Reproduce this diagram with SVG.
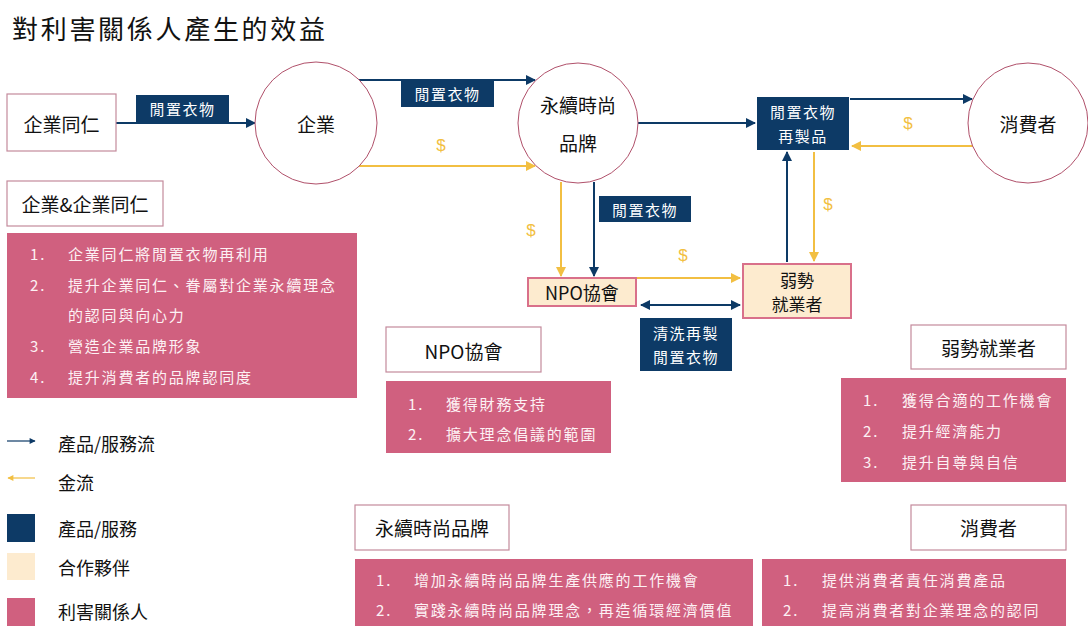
<svg xmlns="http://www.w3.org/2000/svg" width="1088" height="626" viewBox="0 0 1088 626">
<style>
text{font-family:"Noto Sans CJK TC","Noto Sans CJK SC","Noto Sans",sans-serif;}
.t{font-size:19px;fill:#111;text-anchor:middle;dominant-baseline:central;}
.lbl{font-size:15px;fill:#fff;text-anchor:middle;dominant-baseline:central;letter-spacing:1.5px;}
.navy{fill:#0d3a66;}
.circ{fill:#fff;stroke:#b0506a;stroke-width:1;}
.hdr{fill:#fff;stroke:#c48a9c;stroke-width:1.2;}
.list{fill:#d0607f;}
.li{font-size:15px;fill:#fdf1f4;dominant-baseline:central;letter-spacing:1.8px;}
.partner{fill:#fdebcf;stroke:#d9708a;stroke-width:2;}
.nl{stroke:#0d3a66;stroke-width:2;fill:none;}
.yl{stroke:#f2bf42;stroke-width:2;fill:none;}
.dol{font-size:17px;fill:#f2bf42;text-anchor:middle;dominant-baseline:central;font-family:"Liberation Sans",sans-serif;}
.leg{font-size:18px;fill:#111;dominant-baseline:central;}
.pt{font-size:17px;fill:#111;text-anchor:middle;dominant-baseline:central;}
</style>
<defs>
<marker id="an" viewBox="0 0 10 10" refX="9" refY="5" markerWidth="6" markerHeight="5" orient="auto-start-reverse" markerUnits="strokeWidth"><path d="M0,0 L10,5 L0,10 z" fill="#0d3a66"/></marker>
<marker id="ay" viewBox="0 0 10 10" refX="9" refY="5" markerWidth="6" markerHeight="5" orient="auto-start-reverse" markerUnits="strokeWidth"><path d="M0,0 L10,5 L0,10 z" fill="#f2bf42"/></marker>
</defs>
<rect width="1088" height="626" fill="#fff"/>
<text x="12" y="27" style="font-size:26px;fill:#111;dominant-baseline:central;letter-spacing:2.7px">對利害關係人產生的效益</text>

<g id="connectors">
<line class="nl" x1="116" y1="123" x2="255" y2="123" marker-end="url(#an)"/>
<line class="nl" x1="358" y1="80" x2="535" y2="80" marker-end="url(#an)"/>
<line class="yl" x1="358" y1="166" x2="535" y2="166" marker-end="url(#ay)"/>
<line class="nl" x1="638" y1="123" x2="755" y2="123" marker-end="url(#an)"/>
<line class="nl" x1="850" y1="99" x2="972" y2="99" marker-end="url(#an)"/>
<line class="yl" x1="973" y1="146" x2="852" y2="146" marker-end="url(#ay)"/>
<line class="nl" x1="787" y1="262" x2="787" y2="152" marker-end="url(#an)"/>
<line class="yl" x1="814" y1="152" x2="814" y2="261" marker-end="url(#ay)"/>
<line class="yl" x1="561" y1="182" x2="561" y2="276" marker-end="url(#ay)"/>
<line class="nl" x1="594" y1="182" x2="594" y2="276" marker-end="url(#an)"/>
<line class="yl" x1="637" y1="278" x2="740" y2="278" marker-end="url(#ay)"/>
<line class="nl" x1="641" y1="305" x2="740" y2="305" marker-start="url(#an)" marker-end="url(#an)"/>
<rect class="navy" x="136" y="95" width="93" height="27"/>
<text class="lbl" x="182.5" y="108.5">閒置衣物</text>
<rect class="navy" x="401" y="80" width="93" height="27"/>
<text class="lbl" x="447.5" y="93.5">閒置衣物</text>
<rect class="navy" x="599" y="196" width="92" height="26"/>
<text class="lbl" x="645" y="209">閒置衣物</text>
<rect class="navy" x="640" y="318" width="92" height="53"/>
<text class="lbl" x="686" y="332">清洗再製</text>
<text class="lbl" x="686" y="356">閒置衣物</text>
<text class="dol" x="441" y="145">$</text>
<text class="dol" x="908" y="123">$</text>
<text class="dol" x="828" y="204">$</text>
<text class="dol" x="531" y="230">$</text>
<text class="dol" x="683" y="255">$</text>
</g>

<g id="n-staff"><rect class="hdr" x="7" y="94" width="109" height="57"/><text class="t" x="61.5" y="123">企業同仁</text></g>
<g id="n-company"><circle class="circ" cx="316" cy="123" r="61"/><text class="t" x="316" y="123">企業</text></g>
<g id="n-brand"><circle class="circ" cx="578" cy="123" r="60"/><text class="t" x="578" y="104">永續時尚</text><text class="t" x="578" y="142">品牌</text></g>
<g id="n-product"><rect class="navy" x="757" y="97" width="92" height="53"/><text class="lbl" x="803" y="111">閒置衣物</text><text class="lbl" x="803" y="135">再製品</text></g>
<g id="n-consumer"><circle class="circ" cx="1028" cy="123" r="60"/><text class="t" x="1028" y="123">消費者</text></g>
<g id="n-npo"><rect class="partner" x="528" y="278" width="108" height="28"/><text class="t" x="582" y="292" style="font-size:18px">NPO協會</text></g>
<g id="n-worker"><rect class="partner" x="743" y="264" width="108" height="54"/><text class="pt" x="797" y="279">弱勢</text><text class="pt" x="797" y="303">就業者</text></g>

<g id="b-company">
<rect class="hdr" x="7" y="181" width="156" height="45"/><text class="t" x="85" y="203.5">企業&amp;企業同仁</text>
<rect class="list" x="7" y="233" width="350" height="165"/>
<text class="li" x="30" y="253">1.</text><text class="li" x="68" y="253">企業同仁將閒置衣物再利用</text>
<text class="li" x="30" y="284">2.</text><text class="li" x="68" y="284">提升企業同仁、眷屬對企業永續理念</text>
<text class="li" x="68" y="314">的認同與向心力</text>
<text class="li" x="30" y="345">3.</text><text class="li" x="68" y="345">營造企業品牌形象</text>
<text class="li" x="30" y="376">4.</text><text class="li" x="68" y="376">提升消費者的品牌認同度</text>
</g>
<g id="b-npo">
<rect class="hdr" x="386" y="327" width="155" height="45"/><text class="t" x="463.5" y="350">NPO協會</text>
<rect class="list" x="386" y="381" width="225" height="72"/>
<text class="li" x="408" y="403">1.</text><text class="li" x="446" y="403">獲得財務支持</text>
<text class="li" x="408" y="433">2.</text><text class="li" x="446" y="433">擴大理念倡議的範圍</text>
</g>
<g id="b-worker">
<rect class="hdr" x="911" y="325" width="155" height="44"/><text class="t" x="988.5" y="347">弱勢就業者</text>
<rect class="list" x="841" y="378" width="225" height="104"/>
<text class="li" x="863" y="399">1.</text><text class="li" x="902" y="399">獲得合適的工作機會</text>
<text class="li" x="863" y="430">2.</text><text class="li" x="902" y="430">提升經濟能力</text>
<text class="li" x="863" y="461">3.</text><text class="li" x="902" y="461">提升自尊與自信</text>
</g>
<g id="b-brand">
<rect class="hdr" x="355" y="505" width="154" height="45"/><text class="t" x="432" y="527.5">永續時尚品牌</text>
<rect class="list" x="355" y="559" width="398" height="67"/>
<text class="li" x="376" y="579">1.</text><text class="li" x="414" y="579">增加永續時尚品牌生產供應的工作機會</text>
<text class="li" x="376" y="609">2.</text><text class="li" x="414" y="609">實踐永續時尚品牌理念，再造循環經濟價值</text>
</g>
<g id="b-consumer">
<rect class="hdr" x="911" y="505" width="155" height="45"/><text class="t" x="988.5" y="527.5">消費者</text>
<rect class="list" x="762" y="559" width="304" height="67"/>
<text class="li" x="783" y="579">1.</text><text class="li" x="822" y="579">提供消費者責任消費產品</text>
<text class="li" x="783" y="609">2.</text><text class="li" x="822" y="609">提高消費者對企業理念的認同</text>
</g>

<g id="legend">
<line x1="7" y1="441" x2="35" y2="441" stroke="#0d3a66" stroke-width="1.2" marker-end="url(#an)"/>
<text class="leg" x="58" y="443">產品/服務流</text>
<line x1="35" y1="478" x2="8" y2="478" stroke="#f2bf42" stroke-width="1.2" marker-end="url(#ay)"/>
<text class="leg" x="58" y="482">金流</text>
<rect class="navy" x="7" y="514" width="28" height="28"/>
<text class="leg" x="58" y="528">產品/服務</text>
<rect x="7" y="553" width="28" height="27" fill="#fdebcf"/>
<text class="leg" x="58" y="567">合作夥伴</text>
<rect class="list" x="7" y="598" width="28" height="28"/>
<text class="leg" x="58" y="611">利害關係人</text>
</g>
</svg>
